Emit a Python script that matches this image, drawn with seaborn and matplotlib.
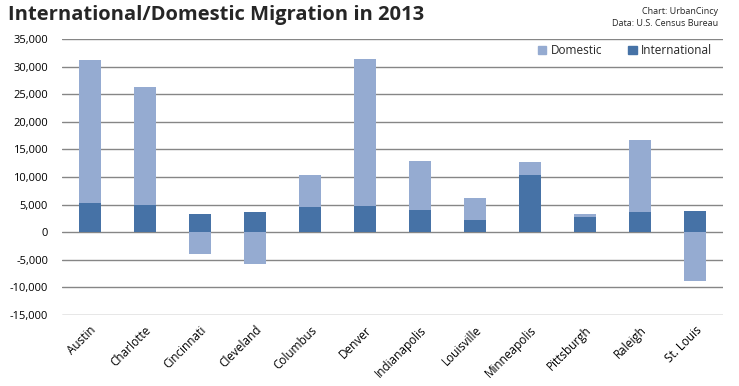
import numpy as np
import pandas as pd
import matplotlib
matplotlib.use("Agg")
import matplotlib.pyplot as plt
import seaborn as sns
from matplotlib.ticker import FuncFormatter, MultipleLocator
from matplotlib.patches import Patch

cities = ["Austin", "Charlotte", "Cincinnati", "Cleveland", "Columbus", "Denver",
          "Indianapolis", "Louisville", "Minneapolis", "Pittsburgh", "Raleigh", "St. Louis"]
international = [5250, 4900, 3260, 3620, 4530, 4710, 3980, 2170, 10320, 2720, 3620, 3800]
domestic = [25900, 21400, -3930, -5740, 5790, 26600, 8870, 3980, 2350, 540, 13030, -8810]

intl = np.array(international)
dom = np.array(domestic)
light_top = np.where(dom > 0, intl + dom, dom)

df = pd.DataFrame({"city": cities, "intl": intl, "light": light_top})

sns.set_style("white")
plt.rcParams['font.family'] = ['Open Sans', 'DejaVu Sans']

c_dom = "#95ABD1"
c_int = "#4672A6"

fig = plt.figure(figsize=(7.39, 3.86), dpi=100)
ax = fig.add_axes([62/739, 1 - 315/386, (723-62)/739, (315-39)/386])

sns.barplot(data=df, x="city", y="light", color=c_dom, width=0.4, saturation=1,
            linewidth=0, edgecolor="none", ax=ax, zorder=3)
sns.barplot(data=df, x="city", y="intl", color=c_int, width=0.4, saturation=1,
            linewidth=0, edgecolor="none", ax=ax, zorder=4)

ax.set_ylim(-15000, 35000)
ax.set_xlim(-0.5, len(cities) - 0.5)
ax.yaxis.set_major_locator(MultipleLocator(5000))
ax.yaxis.set_major_formatter(FuncFormatter(lambda v, p: f"{int(v):,}"))
ax.yaxis.grid(True, color="#868686", linewidth=1)
ax.set_axisbelow(True)
for s in ax.spines.values():
    s.set_visible(False)
ax.set_xlabel("")
ax.set_ylabel("")
ax.tick_params(axis="y", length=0, pad=10, labelsize=8, colors="#000000")
ax.tick_params(axis="x", length=0, pad=6, labelsize=8.5, colors="#000000")
plt.setp(ax.get_xticklabels(), rotation=45, ha="right", rotation_mode="anchor")

handles = [Patch(color=c_dom, label="Domestic"), Patch(color=c_int, label="International")]
ax.legend(handles=handles, loc="upper right", ncol=2, frameon=False, fontsize=8.5,
          handlelength=0.7, handleheight=0.7, handletextpad=0.4, columnspacing=2.2,
          bbox_to_anchor=(1.0, 1.02))

fig.text(8/739, 1 - 15/386, "International/Domestic Migration in 2013", fontsize=14.5,
         fontweight="bold", ha="left", va="center")
fig.text(718/739, 1 - 11/386, "Chart: UrbanCincy", fontsize=6.5, ha="right", va="center")
fig.text(718/739, 1 - 24/386, "Data: U.S. Census Bureau", fontsize=6.5, ha="right", va="center")

fig.savefig("out.png", dpi=100)
